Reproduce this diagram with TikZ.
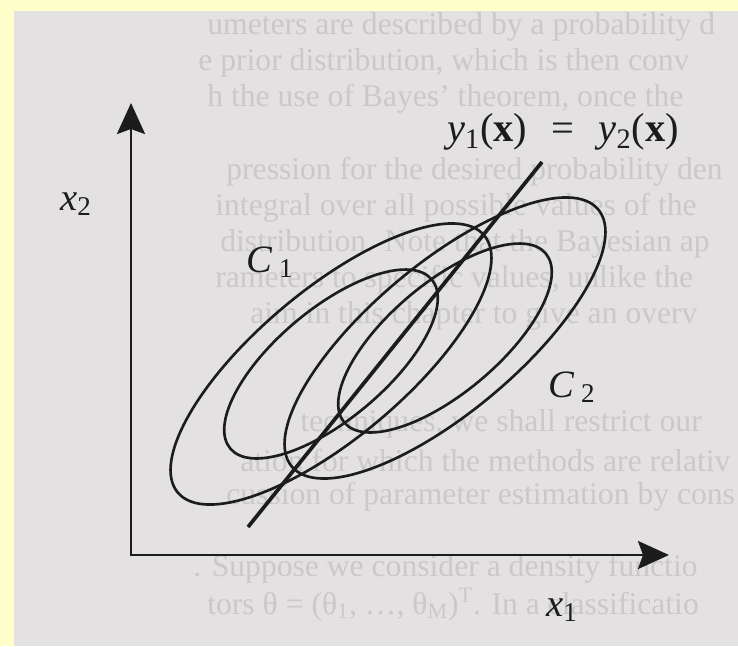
\documentclass[tikz,border=0pt]{standalone}
\usepackage{fontspec}
\setmainfont{Liberation Serif}
\usetikzlibrary{arrows.meta}
\definecolor{frame}{HTML}{FFFFCC}
\definecolor{paper}{HTML}{E3E1E1}
\definecolor{ghost}{HTML}{CAC8C8}
\definecolor{ink}{HTML}{1C1C1C}
\tikzset{
  axis/.style={{Stealth[length=0.62cm,width=0.56cm,inset=0.1cm]}-{Stealth[length=0.62cm,width=0.56cm,inset=0.1cm]},
    line width=1.6pt,color=ink},
  contour/.style={line width=1.5pt,color=ink},
  bound/.style={line width=2.1pt,color=ink},
  lbl/.style={font=\fontsize{22}{26}\selectfont,text=ink,inner sep=0pt},
  ghosttext/.style={anchor=west,font=\fontsize{18}{21}\selectfont,text=ghost,inner sep=0pt},
}

\begin{document}
\begin{tikzpicture}
  \fill[frame] (0,0) rectangle (14.76,12.92);
  \fill[paper] (0.28,0) rectangle (14.76,12.70);
  \useasboundingbox (0,0) rectangle (14.76,12.92);
  % text of the next page showing through
  \foreach \k/\xs/\txt in {0/207/{umeters are described by a probability d},
      1/198/{e prior distribution, which is then conv},
      2/207/{h the use of Bayes' theorem, once the},
      4/226/{pression for the desired probability den},
      5/215/{integral over all possible values of the},
      6/220/{distribution. Note that the Bayesian ap},
      7/215/{rameters to specific values, unlike the},
      8/250/{aim in this chapter to give an overv},
      11/300/{techniques, we shall restrict our},
      12/240/{ation for which the methods are relativ},
      13/226/{cussion of parameter estimation by cons},
      15/193/{. Suppose we consider a density functio},
      16/207/{tors θ = (θ\textsubscript{1}, …, θ\textsubscript{M})\textsuperscript{T}. In a classificatio}}
    \node[ghosttext] (bg\k) at ({\xs/50},{12.92-(27+36.1*\k)/50}) {\txt};
  % axes
  \coordinate (o) at (2.62,1.82);
  \coordinate (ytip) at (2.62,10.86);
  \coordinate (xtip) at (13.38,1.82);
  \draw[axis] (ytip) -- (o) -- (xtip);
  % class contours
  \coordinate (m1) at (6.62,5.64);
  \coordinate (m2) at (8.90,6.16);
  \draw[contour,rotate around={40:(m1)}] (m1) ellipse [x radius=4,y radius=1.48];
  \draw[contour,rotate around={40:(m1)}] (m1) ellipse [x radius=2.63,y radius=1.10];
  \draw[contour,rotate around={40:(m2)}] (m2) ellipse [x radius=4,y radius=1.48];
  \draw[contour,rotate around={40:(m2)}] (m2) ellipse [x radius=2.63,y radius=1.10];
  % decision boundary
  \coordinate (lbot) at (4.96,2.38);
  \coordinate (ltop) at (10.84,9.68);
  \draw[bound] (lbot) -- (ltop);
  % labels
  \node[lbl] (x2lab) at (1.52,8.84) {\textit{x}\textsubscript{2}};
  \node[lbl] (x1lab) at (11.24,0.72) {\textit{x}\textsubscript{1}};
  \node[lbl] (c1lab) at (5.40,7.68) {\textit{C}\,\textsubscript{1}};
  \node[lbl] (c2lab) at (11.44,5.18) {\textit{C}\,\textsubscript{2}};
  \node[lbl,font=\fontsize{23}{27}\selectfont] (eqlab) at (11.26,10.28)
    {\textit{y}\textsubscript{1}(\textbf{x})\hspace{0.6em}=\hspace{0.6em}\textit{y}\textsubscript{2}(\textbf{x})};
\end{tikzpicture}
\end{document}
